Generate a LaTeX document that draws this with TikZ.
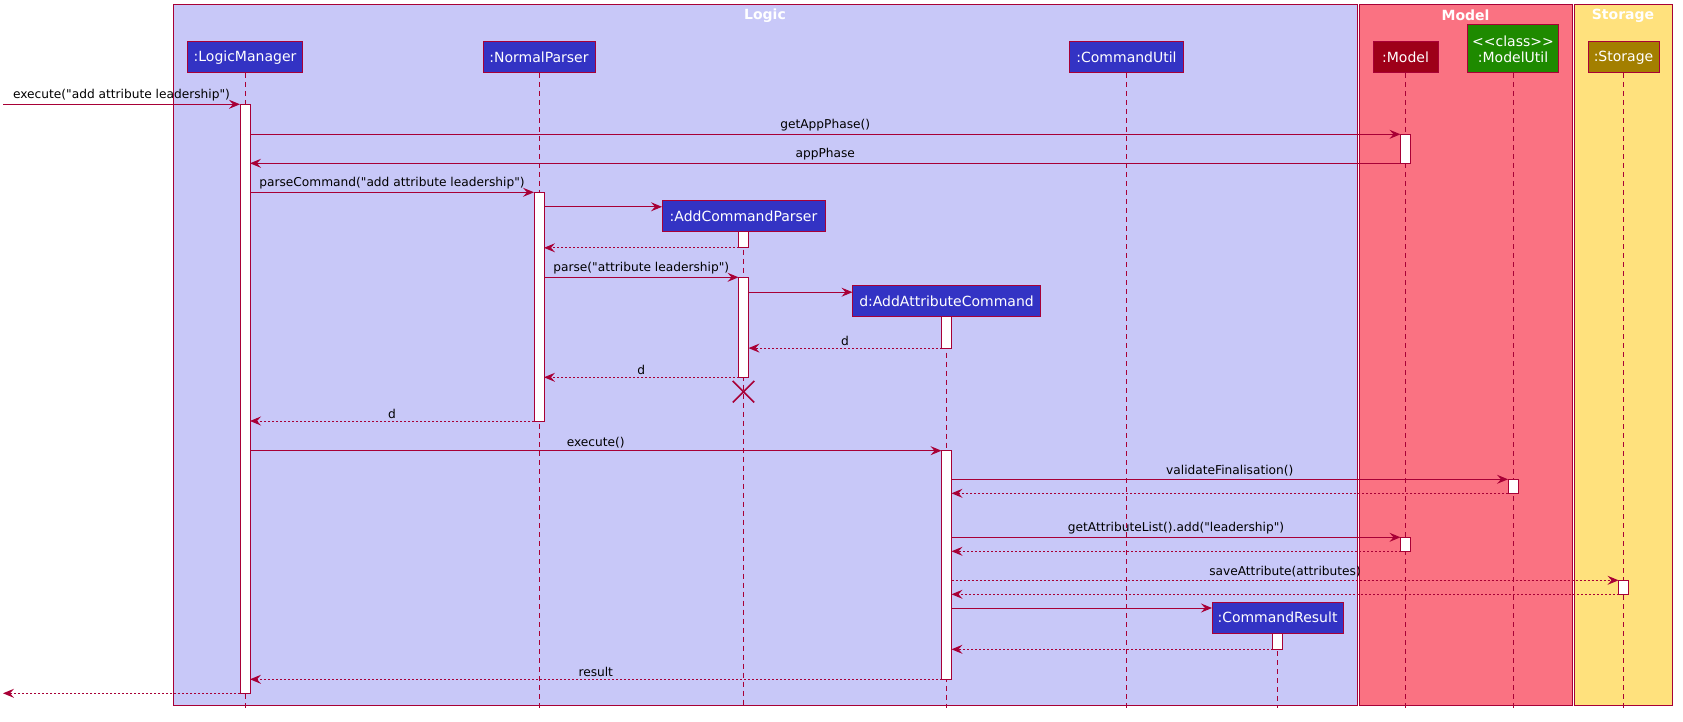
\documentclass[tikz,border=0pt]{standalone}
\usepackage{fontspec}
\setmainfont{DejaVu Sans}[Ligatures=TeXOff]
\usepackage{tikz}
\usetikzlibrary{arrows.meta,shapes.misc}
\definecolor{umlred}{HTML}{A80036}
\definecolor{logicbg}{HTML}{C8C8F8}
\definecolor{modelbg}{HTML}{FA7282}
\definecolor{storagebg}{HTML}{FFE17D}
\definecolor{logicpt}{HTML}{3333C4}
\definecolor{modelpt}{HTML}{9E0019}
\definecolor{utilpt}{HTML}{1E8A00}
\definecolor{storagept}{HTML}{A37F00}

\begin{document}
\begin{tikzpicture}[x=1pt, y=-1pt, line width=1pt,
	part/.style={draw=umlred, fill=logicpt, text=white, font=\fontsize{14}{16}\selectfont, minimum height=31pt, inner sep=0pt, outer sep=0pt},
	act/.style={draw=umlred, fill=white, minimum width=10pt, inner sep=0pt, outer sep=0pt, anchor=north},
	life/.style={draw=umlred, dash pattern=on 5pt off 4pt},
	msg/.style={draw=umlred, -{Stealth[length=11pt,width=9pt,inset=4pt]}},
	ret/.style={msg, dash pattern=on 2pt off 2pt},
	lbl/.style={above, text=black, font=\fontsize{12.2}{14}\selectfont, inner sep=2.3pt},
	title/.style={text=white, font=\fontsize{14}{16}\selectfont\bfseries}]
						\useasboundingbox (0,0) rectangle (1683,722);
						\draw[umlred, fill=logicbg] (173,4.5) rectangle (1357,705);
						\draw[umlred, fill=modelbg] (1359,4.5) rectangle (1572,705);
						\draw[umlred, fill=storagebg] (1574.5,4.5) rectangle (1672,705);
						\node[title] (logict) at (765,15.5) {Logic};
						\node[title] (modelt) at (1465.5,15.5) {Model};
						\node[title] (storaget) at (1623,15.5) {Storage};

						\node[part, minimum width=115pt] (lm) at (245,57.5) {:LogicManager};
						\node[part, minimum width=112pt] (np) at (539,57.5) {:NormalParser};
						\node[part, minimum width=114pt] (cu) at (1126.5,57.5) {:CommandUtil};
						\node[part, fill=modelpt, minimum width=65pt] (mdl) at (1405.5,57.5) {:Model};
						\node[part, fill=utilpt, minimum width=91pt, minimum height=48pt, align=center] (util) at (1513,49) {<{}<class>{}>\\:ModelUtil};
						\node[part, fill=storagept, minimum width=71pt] (sto) at (1623.5,57.5) {:Storage};
						\node[part, minimum width=163pt] (acp) at (743.5,216) {:AddCommandParser};
						\node[part, minimum width=188pt] (aac) at (946.5,301) {d:AddAttributeCommand};
						\node[part, minimum width=131pt] (cr) at (1277.5,617.5) {:CommandResult};

						\foreach \p in {lm,np,cu,mdl,util,sto,acp,aac,cr}
							\draw[life] (\p.south) -- (\p.south |- 0,708);

						\node[act, minimum height=589pt] (lmact) at (lm.south |- 0,104.3) {};
						\node[act, minimum height=29pt] (mdlact1) at (mdl.south |- 0,134.3) {};
						\node[act, minimum height=228.7pt] (npact) at (np.south |- 0,192.3) {};
						\node[act, minimum height=16.3pt] (acpact1) at (acp.south) {};
						\node[act, minimum height=100pt] (acpact2) at (acp.south |- 0,277.3) {};
						\node[act, minimum height=31.6pt] (aacact1) at (aac.south) {};
						\node[act, minimum height=228.6pt] (aacact2) at (aac.south |- 0,450.7) {};
						\node[act, minimum height=14pt] (utilact) at (util.south |- 0,479.3) {};
						\node[act, minimum height=14pt] (mdlact2) at (mdl.south |- 0,537.3) {};
						\node[act, minimum height=14pt] (stoact) at (sto.south |- 0,580.3) {};
						\node[act, minimum height=16.3pt] (cract) at (cr.south) {};

						\coordinate (in) at (3,104.3);
						\coordinate (out) at (3,693.3);
						\coordinate (acpin) at ([yshift=-6.3pt]acp.north west);
						\coordinate (aacin) at ([yshift=-6.7pt]aac.north west);
						\coordinate (crin) at ([yshift=-6pt]cr.north west);

						\draw[msg] (in) -- (lmact.north west) node[lbl, midway] (m1) {execute("add attribute leadership")};
						\draw[msg] (lmact.east |- mdlact1.north) -- (mdlact1.north west) node[lbl, midway] (m2) {getAppPhase()};
						\draw[msg] (mdlact1.south west) -- (lmact.east |- mdlact1.south) node[lbl, midway] (m3) {appPhase};
						\draw[msg] (lmact.east |- npact.north) -- (npact.north west) node[lbl, midway] (m4) {parseCommand("add attribute leadership")};
						\draw[msg] (npact.east |- acpin) -- (acpin);
						\draw[ret] (acpact1.south west) -- (npact.east |- acpact1.south);
						\draw[msg] (npact.east |- acpact2.north) -- (acpact2.north west) node[lbl, midway] (m5) {parse("attribute leadership")};
						\draw[msg] (acpact2.east |- aacin) -- (aacin);
						\draw[ret] (aacact1.south west) -- (acpact2.east |- aacact1.south) node[lbl, midway] (m6) {d};
						\draw[ret] (acpact2.south west) -- (npact.east |- acpact2.south) node[lbl, midway] (m7) {d};
						\node[cross out, draw=umlred, minimum size=20pt, inner sep=0pt, line width=1.5pt] (acpx) at (acpact2.south |- 0,391.7) {};
						\draw[ret] (npact.south west) -- (lmact.east |- npact.south) node[lbl, midway] (m8) {d};
						\draw[msg] (lmact.east |- aacact2.north) -- (aacact2.north west) node[lbl, midway] (m9) {execute()};
						\draw[msg] (aacact2.east |- utilact.north) -- (utilact.north west) node[lbl, midway] (m10) {validateFinalisation()};
						\draw[ret] (utilact.south west) -- (aacact2.east |- utilact.south);
						\draw[msg] (aacact2.east |- mdlact2.north) -- (mdlact2.north west) node[lbl, midway] (m11) {getAttributeList().add("leadership")};
						\draw[ret] (mdlact2.south west) -- (aacact2.east |- mdlact2.south);
						\draw[ret] (aacact2.east |- stoact.north) -- (stoact.north west) node[lbl, midway] (m12) {saveAttribute(attributes)};
						\draw[ret] (stoact.south west) -- (aacact2.east |- stoact.south);
						\draw[msg] (aacact2.east |- crin) -- (crin);
						\draw[ret] (cract.south west) -- (aacact2.east |- cract.south);
						\draw[ret] (aacact2.south west) -- (lmact.east |- aacact2.south) node[lbl, midway] (m13) {result};
						\draw[ret] (lmact.south west) -- (out);
\end{tikzpicture}
\end{document}
